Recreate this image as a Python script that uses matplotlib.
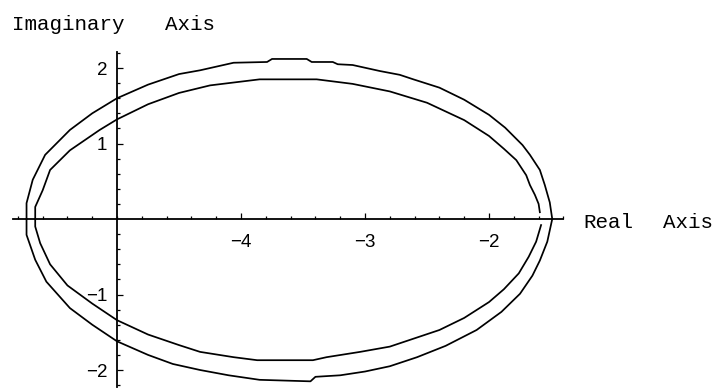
import matplotlib
matplotlib.use("Agg")
import matplotlib.pyplot as plt
from matplotlib.ticker import FixedLocator

# Nyquist-style contours in the complex plane (real part, imaginary part)
outer_upper_re = [-5.73, -5.73, -5.68, -5.58, -5.38, -5.20, -5.00, -4.75, -4.50, -4.33,
                  -4.06, -3.79, -3.75, -3.47, -3.43, -3.26, -3.22, -3.10, -2.88, -2.72,
                  -2.61, -2.40, -2.20, -2.00, -1.87, -1.73, -1.67, -1.59, -1.55, -1.51, -1.49]
outer_upper_im = [0.00, 0.21, 0.52, 0.85, 1.18, 1.40, 1.60, 1.78, 1.92, 1.97,
                  2.07, 2.08, 2.12, 2.12, 2.08, 2.08, 2.05, 2.04, 1.96, 1.91,
                  1.85, 1.74, 1.58, 1.38, 1.21, 0.98, 0.85, 0.65, 0.45, 0.22, 0.00]

outer_lower_re = [-5.73, -5.73, -5.66, -5.57, -5.38, -5.20, -5.00, -4.75, -4.55, -4.33,
                  -4.10, -3.85, -3.44, -3.40, -3.20, -3.00, -2.80, -2.58, -2.35, -2.10,
                  -1.90, -1.75, -1.65, -1.59, -1.53, -1.49]
outer_lower_im = [0.00, -0.21, -0.54, -0.83, -1.18, -1.40, -1.62, -1.80, -1.92, -2.00,
                  -2.07, -2.13, -2.15, -2.09, -2.07, -2.02, -1.95, -1.83, -1.68, -1.47,
                  -1.23, -0.99, -0.75, -0.55, -0.30, 0.00]

inner_upper_re = [-5.66, -5.66, -5.60, -5.54, -5.38, -5.14, -5.00, -4.75, -4.50, -4.25,
                  -3.85, -3.39, -3.10, -2.80, -2.50, -2.20, -2.00, -1.88, -1.78, -1.70,
                  -1.67, -1.63, -1.60, -1.59]
inner_upper_im = [0.00, 0.16, 0.38, 0.65, 0.91, 1.18, 1.32, 1.52, 1.67, 1.77,
                  1.85, 1.85, 1.79, 1.69, 1.54, 1.31, 1.10, 0.93, 0.78, 0.58,
                  0.45, 0.32, 0.20, 0.09]

inner_lower_re = [-5.66, -5.66, -5.62, -5.54, -5.40, -5.20, -5.00, -4.75, -4.50, -4.33,
                  -4.06, -3.87, -3.42, -3.31, -3.04, -2.80, -2.40, -2.20, -2.00, -1.88,
                  -1.76, -1.68, -1.62, -1.58]
inner_lower_im = [0.00, -0.10, -0.32, -0.60, -0.88, -1.12, -1.34, -1.53, -1.67, -1.76,
                  -1.83, -1.87, -1.87, -1.83, -1.76, -1.69, -1.47, -1.31, -1.10, -0.93,
                  -0.72, -0.50, -0.30, -0.08]

x_tick_values = [-4, -3, -2]
y_tick_values = [-2, -1, 1, 2]

W, H, DPI = 721, 391, 100
fig = plt.figure(figsize=(W / DPI, H / DPI), dpi=DPI)
ax = fig.add_axes([0, 0, 1, 1])
ax.set_xlim(-5.944, -0.129)
ax.set_ylim(-2.278, 2.901)
ax.patch.set_alpha(0)

line_kw = dict(color="black", lw=1.25, solid_joinstyle="round")
ax.plot(outer_upper_re, outer_upper_im, **line_kw)
ax.plot(outer_lower_re, outer_lower_im, **line_kw)
ax.plot(inner_upper_re, inner_upper_im, **line_kw)
ax.plot(inner_lower_re, inner_lower_im, **line_kw)

# axes crossing at (-5, 0)
for side in ("top", "right"):
    ax.spines[side].set_visible(False)
ax.spines["left"].set_position(("data", -5))
ax.spines["bottom"].set_position(("data", 0))
ax.spines["left"].set_bounds(-2.23, 2.21)
ax.spines["bottom"].set_bounds(-5.84, -1.40)
for side in ("left", "bottom"):
    ax.spines[side].set_linewidth(1.3)

ax.xaxis.set_major_locator(FixedLocator(x_tick_values))
ax.yaxis.set_major_locator(FixedLocator(y_tick_values))
ax.xaxis.set_minor_locator(FixedLocator([v / 5 for v in range(-29, -6)]))
ax.yaxis.set_minor_locator(FixedLocator([v / 5 for v in range(-11, 12) if v != 0]))
ax.set_xticklabels([f"\u2212{abs(v)}" for v in x_tick_values])
ax.set_yticklabels([f"\u2212{abs(v)}" if v < 0 else str(v) for v in y_tick_values])

ax.tick_params(which="both", direction="in", width=0.9, colors="black")
ax.tick_params(which="major", length=4)
ax.tick_params(which="minor", length=2.5)
ax.tick_params(axis="x", which="major", pad=11)
ax.tick_params(axis="y", which="major", pad=7)
for lbl in ax.get_xticklabels() + ax.get_yticklabels():
    lbl.set_fontfamily("Liberation Sans")
    lbl.set_fontsize(13.5)

label_kw = dict(family="Liberation Mono", fontsize=15, va="baseline", ha="left")
fig.text(12 / W, 1 - 30 / H, "Imaginary", **label_kw)
fig.text(165 / W, 1 - 30 / H, "Axis", **label_kw)
fig.text(583 / W, 1 - 228 / H, "Real", **label_kw)
fig.text(663 / W, 1 - 228 / H, "Axis", **label_kw)

fig.savefig("out.png", dpi=DPI, facecolor="white")
